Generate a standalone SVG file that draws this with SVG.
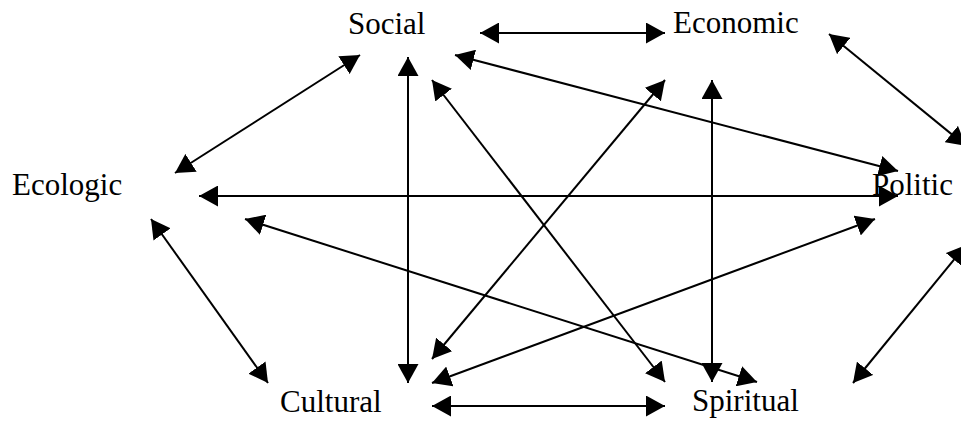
<svg xmlns="http://www.w3.org/2000/svg" width="961" height="426" viewBox="0 0 961 426">
<style>
.lbl{font-family:"Liberation Serif","Times New Roman",serif;font-size:31px;fill:#000}
.c{stroke:#000;stroke-width:2;fill:none;marker-start:url(#ah);marker-end:url(#ah)}
</style>
<defs>
<marker id="ah" markerUnits="userSpaceOnUse" markerWidth="20" markerHeight="21" refX="19" refY="10.5" orient="auto-start-reverse" viewBox="0 0 20 21">
<path d="M0,0 L19,10.5 L0,21 Z" fill="#000"/>
</marker>
</defs>
<rect width="961" height="426" fill="#fff"/>
<g id="social"><text class="lbl" x="348" y="34">Social</text></g>
<g id="economic"><text class="lbl" x="673" y="33">Economic</text></g>
<g id="ecologic"><text class="lbl" x="12" y="195">Ecologic</text></g>
<g id="politic"><text class="lbl" x="872" y="195">Politic</text></g>
<g id="cultural"><text class="lbl" x="280" y="412">Cultural</text></g>
<g id="spiritual"><text class="lbl" x="692" y="411">Spiritual</text></g>
<g id="connectors">
<line class="c" x1="480" y1="33" x2="665" y2="33"/>
<line class="c" x1="829" y1="34" x2="966" y2="146"/>
<line class="c" x1="360" y1="55" x2="175" y2="173"/>
<line class="c" x1="408" y1="57" x2="408" y2="383"/>
<line class="c" x1="455" y1="55" x2="898" y2="171"/>
<line class="c" x1="432" y1="80" x2="665" y2="382"/>
<line class="c" x1="665" y1="80" x2="432" y2="359"/>
<line class="c" x1="712" y1="80" x2="712" y2="382"/>
<line class="c" x1="199" y1="196" x2="898" y2="196"/>
<line class="c" x1="245" y1="219" x2="757" y2="382"/>
<line class="c" x1="151" y1="219" x2="268" y2="383"/>
<line class="c" x1="432" y1="383" x2="875" y2="219"/>
<line class="c" x1="432" y1="406" x2="665" y2="406"/>
<line class="c" x1="966" y1="245" x2="853" y2="383"/>
</g>
</svg>
